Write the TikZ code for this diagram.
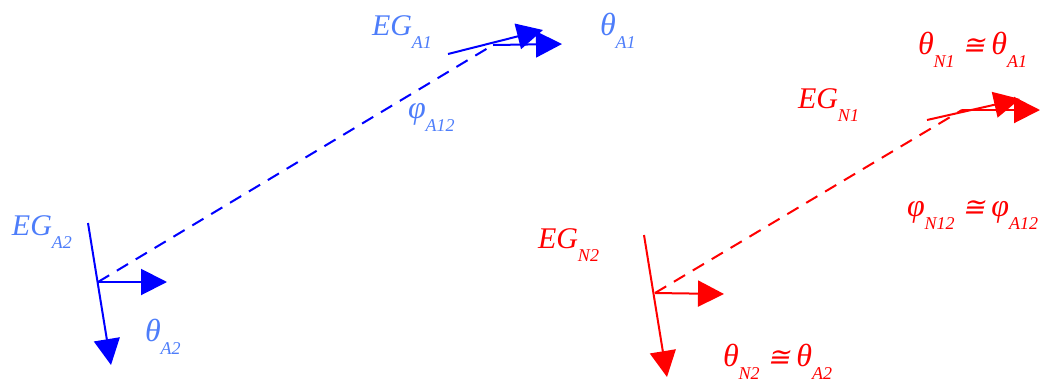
\documentclass[tikz,border=0pt]{standalone}
\usepackage{fontspec}
\setmainfont{Liberation Serif}
\newfontfamily\congfont[FakeSlant=0.2]{DejaVu Sans}
\usetikzlibrary{arrows.meta}
\definecolor{labblue}{RGB}{77,125,250}
\definecolor{lineblue}{RGB}{0,0,255}
\definecolor{red}{RGB}{255,0,0}
\newcommand\mysub[1]{\raisebox{-13pt}{\fontsize{18}{18}\selectfont #1}}
\newcommand\gk[1]{{\fontsize{32}{32}\selectfont #1}}
\newcommand\mycong{\hspace{8pt}{\congfont\fontsize{27}{27}\selectfont ≅}\hspace{6pt}}
\tikzset{
  ax/.style={line width=2pt,-{Triangle[length=26pt,width=26pt]}},
  dsh/.style={line width=2pt,dash pattern=on 13pt off 9pt},
  lab/.style={anchor=base west,inner sep=0pt,outer sep=0pt,font=\fontsize{30}{30}\selectfont\itshape}
}
\begin{document}
\begin{tikzpicture}[x=1pt,y=-1pt]
\useasboundingbox (0,0) rectangle (1042,381);
% ---- blue system
\coordinate (A2) at (98,282);
\coordinate (A2t) at (88,223);
\coordinate (A2z) at (111,365);
\coordinate (A2x) at (167,282);
\coordinate (A1) at (493,45);
\coordinate (A1t) at (448,54);
\coordinate (A1z) at (543,30);
\coordinate (A1x) at (562,44);
\begin{scope}[draw=lineblue,fill=lineblue]
\draw[dsh] (A2) -- (A1);
\draw[ax] (A2t) -- (A2z);
\draw[ax] (A2) -- (A2x);
\draw[ax] (A1t) -- (A1z);
\draw[ax] (A1) -- (A1x);
\end{scope}
\begin{scope}[text=labblue]
\node[lab] (lEGA1) at (372,35) {EG\mysub{A1}};
\node[lab] (lthA1) at (600,35) {\gk{θ}\mysub{A1}};
\node[lab] (lphA12) at (408,118) {\gk{φ}\mysub{A12}};
\node[lab] (lEGA2) at (12,235) {EG\mysub{A2}};
\node[lab] (lthA2) at (145,341) {\gk{θ}\mysub{A2}};
\end{scope}
% ---- red system
\coordinate (N2) at (655,293);
\coordinate (N2t) at (644,235);
\coordinate (N2z) at (667,377);
\coordinate (N2x) at (724,294);
\coordinate (N1) at (962,110);
\coordinate (N1t) at (927,120);
\coordinate (N1z) at (1020,99);
\coordinate (N1x) at (1040,110);
\begin{scope}[draw=red,fill=red]
\draw[dsh] (N2) -- (N1);
\draw[ax] (N2t) -- (N2z);
\draw[ax] (N2) -- (N2x);
\draw[ax] (N1t) -- (N1z);
\draw[ax] (N1) -- (N1x);
\end{scope}
\begin{scope}[text=red]
\node[lab] (lEGN1) at (798,108) {EG\mysub{N1}};
\node[lab] (lthN1) at (918,54) {\gk{θ}\mysub{N1}\mycong\gk{θ}\mysub{A1}};
\node[lab] (lphN12) at (907,216) {\gk{φ}\mysub{N12}\mycong\gk{φ}\mysub{A12}};
\node[lab] (lEGN2) at (538,248) {EG\mysub{N2}};
\node[lab] (lthN2) at (723,366) {\gk{θ}\mysub{N2}\mycong\gk{θ}\mysub{A2}};
\end{scope}
\end{tikzpicture}
\end{document}
